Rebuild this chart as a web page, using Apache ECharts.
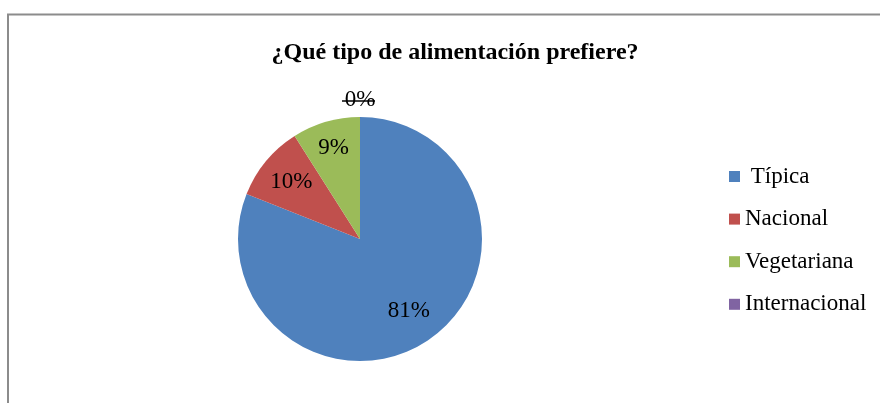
<!DOCTYPE html>
<html>
<head>
<meta charset="utf-8">
<title>¿Qué tipo de alimentación prefiere?</title>
<script src="https://cdn.jsdelivr.net/npm/echarts@6/dist/echarts.min.js"></script>
<style>
	html,body{margin:0;padding:0;background:#fff;}
	#chart{width:880px;height:403px;}
</style>
</head>
<body>
<div id="chart"></div>
<script>
// datos de la encuesta
var tituloTexto = '¿Qué tipo de alimentación prefiere?';
var categorias = ['Típica', 'Nacional', 'Vegetariana', 'Internacional'];
var porcentajes = [81, 10, 9, 0];

var colores = ['#4F81BD', '#C0504D', '#9BBB59', '#8064A2'];
var fuente = "'Liberation Serif', 'Times New Roman', serif";

var centro = [360, 239], radio = 122;
// radio donde Excel dejó cada etiqueta
var radioEtiqueta = [84, 86, 92, 136];

var myChart = echarts.init(document.getElementById('chart'));

var total = 0;
for (var i = 0; i < porcentajes.length; i++) total += porcentajes[i];

var datos = [], acum = 0;
for (var i = 0; i < categorias.length; i++) {
	var medio = 2 * Math.PI * (acum + porcentajes[i] / 2) / total;
	acum += porcentajes[i];
	var extra = radioEtiqueta[i] - radio / 2;   // inside = radio/2 por defecto
	datos.push({
		name: categorias[i],
		value: porcentajes[i],
		itemStyle: { color: colores[i] },
		label: { offset: [Math.sin(medio) * extra, -Math.cos(medio) * extra] }
	});
}

var option = {
	animation: false,
	title: {
		text: tituloTexto,
		left: 450,
		top: 36,
		textAlign: 'center',
		textStyle: { fontFamily: fuente, fontSize: 24, fontWeight: 'bold', color: '#000' }
	},
	legend: {
		orient: 'vertical',
		left: 724,
		top: 160,
		itemWidth: 11,
		itemHeight: 11,
		itemGap: 19.6,
		icon: 'rect',
		data: categorias,
		formatter: function(n){ return n === 'Típica' ? ' ' + n : n; },
		textStyle: { fontFamily: fuente, fontSize: 23, lineHeight: 22, color: '#000' }
	},
	graphic: [
		{   // marco del gráfico
			type: 'rect',
			shape: { x: 8, y: 14.5, width: 900, height: 420 },
			style: { fill: 'none', stroke: '#8c8c8c', lineWidth: 2 },
			silent: true
		},
		{   // línea que tacha el 0%
			type: 'line',
			shape: { x1: 342, y1: 101, x2: 375, y2: 101 },
			style: { stroke: '#000', lineWidth: 1.5 },
			z: 10,
			silent: true
		}
	],
	series: [
		{
			type: 'pie',
			center: centro,
			radius: radio,
			startAngle: 90,
			clockwise: true,
			avoidLabelOverlap: false,
			label: {
				show: true,
				position: 'inside',
				formatter: '{d}%',
				fontFamily: fuente,
				fontSize: 23,
				color: '#000'
			},
			labelLine: { show: false },
			emphasis: { disabled: true },
			data: datos
		}
	]
};

myChart.setOption(option);
</script>
</body>
</html>
